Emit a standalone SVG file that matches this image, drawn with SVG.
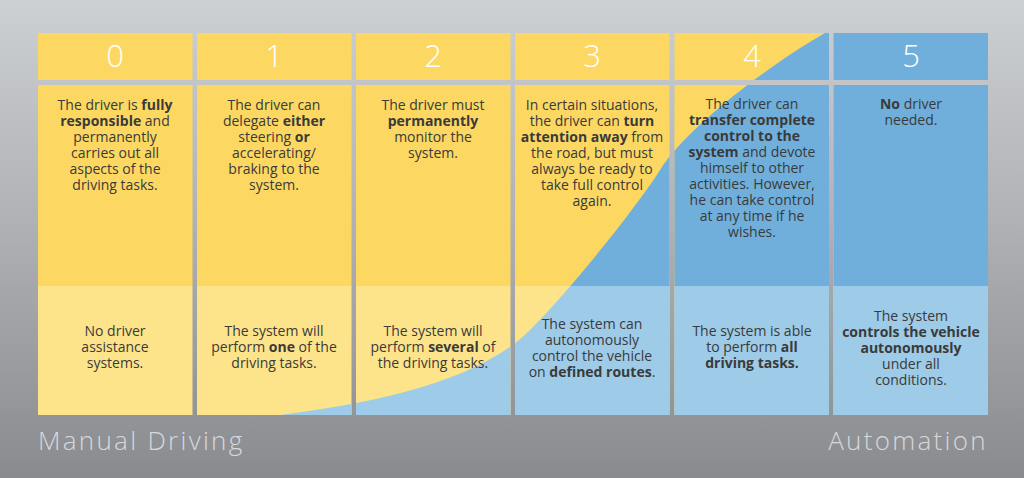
<svg xmlns="http://www.w3.org/2000/svg" width="1024" height="478" viewBox="0 0 1024 478">
<defs>
<linearGradient id="bg" x1="0" y1="0" x2="0" y2="1">
<stop offset="0" stop-color="#cdd0d3"/>
<stop offset="0.45" stop-color="#b0b2b5"/>
<stop offset="1" stop-color="#8a8b8f"/>
</linearGradient>
<clipPath id="blueArea">
<path d="M 272 416 C 380 403, 480 380, 530 330 C 575 285, 640 202, 660 170 C 690 122, 790 50, 840 25 L 1000 25 L 1000 420 Z"/>
</clipPath>
<style>
.hy{fill:#fcd862}
.my{fill:#fcd862}
.by{fill:#fde48a}
.hb{fill:#70afdb}
.mb{fill:#70afdb}
.bb{fill:#9ecbe7}
.num{font-family:"Open Sans","Liberation Sans",sans-serif;font-weight:300;font-size:31px;fill:#ffffff;text-anchor:middle}
.t{font-family:"Open Sans","Liberation Sans",sans-serif;font-size:14px;fill:#3a3a3a;text-anchor:middle}
.b{font-weight:700}
.foot{font-family:"Open Sans","Liberation Sans",sans-serif;font-weight:300;font-size:26px;fill:#d6d8db;letter-spacing:2.3px}
</style>
</defs>
<rect x="0" y="0" width="1024" height="478" fill="url(#bg)"/>

<g id="cells-yellow">
<g id="col0-bg"><rect class="hy" x="38" y="33" width="154.5" height="47"/><rect class="my" x="38" y="85" width="154.5" height="201"/><rect class="by" x="38" y="286" width="154.5" height="129"/></g>
<g id="col1-bg"><rect class="hy" x="197" y="33" width="154.5" height="47"/><rect class="my" x="197" y="85" width="154.5" height="201"/><rect class="by" x="197" y="286" width="154.5" height="129"/></g>
<g id="col2-bg"><rect class="hy" x="356" y="33" width="154.5" height="47"/><rect class="my" x="356" y="85" width="154.5" height="201"/><rect class="by" x="356" y="286" width="154.5" height="129"/></g>
<g id="col3-bg"><rect class="hy" x="515" y="33" width="154.5" height="47"/><rect class="my" x="515" y="85" width="154.5" height="201"/><rect class="by" x="515" y="286" width="154.5" height="129"/></g>
<g id="col4-bg"><rect class="hy" x="674.5" y="33" width="154.5" height="47"/><rect class="my" x="674.5" y="85" width="154.5" height="201"/><rect class="by" x="674.5" y="286" width="154.5" height="129"/></g>
<g id="col5-bg"><rect class="hy" x="833.5" y="33" width="154.5" height="47"/><rect class="my" x="833.5" y="85" width="154.5" height="201"/><rect class="by" x="833.5" y="286" width="154.5" height="129"/></g>
</g>

<g id="cells-blue" clip-path="url(#blueArea)">
<rect class="hb" x="38" y="33" width="154.5" height="47"/><rect class="mb" x="38" y="85" width="154.5" height="201"/><rect class="bb" x="38" y="286" width="154.5" height="129"/>
<rect class="hb" x="197" y="33" width="154.5" height="47"/><rect class="mb" x="197" y="85" width="154.5" height="201"/><rect class="bb" x="197" y="286" width="154.5" height="129"/>
<rect class="hb" x="356" y="33" width="154.5" height="47"/><rect class="mb" x="356" y="85" width="154.5" height="201"/><rect class="bb" x="356" y="286" width="154.5" height="129"/>
<rect class="hb" x="515" y="33" width="154.5" height="47"/><rect class="mb" x="515" y="85" width="154.5" height="201"/><rect class="bb" x="515" y="286" width="154.5" height="129"/>
<rect class="hb" x="674.5" y="33" width="154.5" height="47"/><rect class="mb" x="674.5" y="85" width="154.5" height="201"/><rect class="bb" x="674.5" y="286" width="154.5" height="129"/>
<rect class="hb" x="833.5" y="33" width="154.5" height="47"/><rect class="mb" x="833.5" y="85" width="154.5" height="201"/><rect class="bb" x="833.5" y="286" width="154.5" height="129"/>
</g>

<g id="level0">
<text class="num" x="115" y="67">0</text>
<text class="t" x="115" y="109.5">The driver is <tspan class="b">fully</tspan></text>
<text class="t" x="115" y="125.5"><tspan class="b">responsible</tspan> and</text>
<text class="t" x="115" y="141.5">permanently</text>
<text class="t" x="115" y="157.5">carries out all</text>
<text class="t" x="115" y="173.5">aspects of the</text>
<text class="t" x="115" y="189.5">driving tasks.</text>
<text class="t" x="115" y="336">No driver</text>
<text class="t" x="115" y="352">assistance</text>
<text class="t" x="115" y="368">systems.</text>
</g>

<g id="level1">
<text class="num" x="274" y="67">1</text>
<text class="t" x="274" y="109.5">The driver can</text>
<text class="t" x="274" y="125.5">delegate <tspan class="b">either</tspan></text>
<text class="t" x="274" y="141.5">steering <tspan class="b">or</tspan></text>
<text class="t" x="274" y="157.5">accelerating/</text>
<text class="t" x="274" y="173.5">braking to the</text>
<text class="t" x="274" y="189.5">system.</text>
<text class="t" x="274" y="336">The system will</text>
<text class="t" x="274" y="352">perform <tspan class="b">one</tspan> of the</text>
<text class="t" x="274" y="368">driving tasks.</text>
</g>

<g id="level2">
<text class="num" x="433" y="67">2</text>
<text class="t" x="433" y="109.5">The driver must</text>
<text class="t b" x="433" y="125.5">permanently</text>
<text class="t" x="433" y="141.5">monitor the</text>
<text class="t" x="433" y="157.5">system.</text>
<text class="t" x="433" y="336">The system will</text>
<text class="t" x="433" y="352">perform <tspan class="b">several</tspan> of</text>
<text class="t" x="433" y="368">the driving tasks.</text>
</g>

<g id="level3">
<text class="num" x="592" y="67">3</text>
<text class="t" x="592" y="109.5">In certain situations,</text>
<text class="t" x="592" y="125.5">the driver can <tspan class="b">turn</tspan></text>
<text class="t" x="592" y="141.5"><tspan class="b">attention away</tspan> from</text>
<text class="t" x="592" y="157.5">the road, but must</text>
<text class="t" x="592" y="173.5">always be ready to</text>
<text class="t" x="592" y="189.5">take full control</text>
<text class="t" x="592" y="205.5">again.</text>
<text class="t" x="592" y="329">The system can</text>
<text class="t" x="592" y="345">autonomously</text>
<text class="t" x="592" y="361">control the vehicle</text>
<text class="t" x="592" y="377">on <tspan class="b">defined routes</tspan>.</text>
</g>

<g id="level4">
<text class="num" x="752" y="67">4</text>
<text class="t" x="752" y="109">The driver can</text>
<text class="t b" x="752" y="125">transfer complete</text>
<text class="t b" x="752" y="141">control to the</text>
<text class="t" x="752" y="157"><tspan class="b">system</tspan> and devote</text>
<text class="t" x="752" y="173">himself to other</text>
<text class="t" x="752" y="189">activities. However,</text>
<text class="t" x="752" y="205">he can take control</text>
<text class="t" x="752" y="221">at any time if he</text>
<text class="t" x="752" y="237">wishes.</text>
<text class="t" x="752" y="336">The system is able</text>
<text class="t" x="752" y="352">to perform <tspan class="b">all</tspan></text>
<text class="t b" x="752" y="368">driving tasks.</text>
</g>

<g id="level5">
<text class="num" x="911" y="67">5</text>
<text class="t" x="911" y="109"><tspan class="b">No</tspan> driver</text>
<text class="t" x="911" y="125">needed.</text>
<text class="t" x="911" y="321">The system</text>
<text class="t b" x="911" y="337">controls the vehicle</text>
<text class="t b" x="911" y="353">autonomously</text>
<text class="t" x="911" y="369">under all</text>
<text class="t" x="911" y="385">conditions.</text>
</g>

<g id="axis-labels">
<text class="foot" x="38" y="450">Manual Driving</text>
<text class="foot" x="988" y="450" text-anchor="end">Automation</text>
</g>
<g id="connectors"></g>
</svg>
